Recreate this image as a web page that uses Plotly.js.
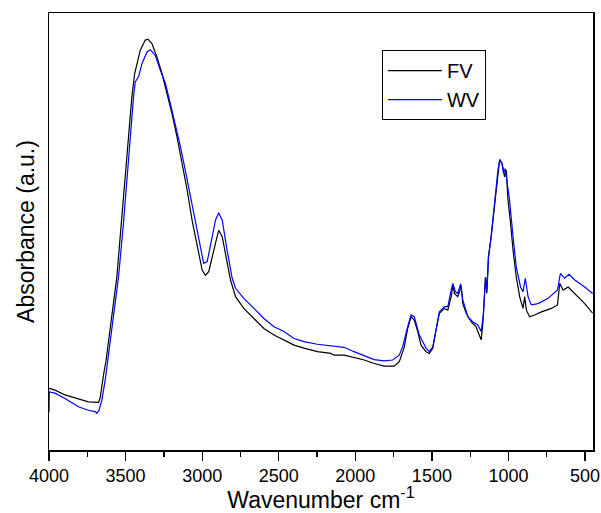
<!DOCTYPE html>
<html>
<head>
<meta charset="utf-8">
<script src="https://cdn.plot.ly/plotly-3.0.1.min.js"></script>
<style>html,body{margin:0;padding:0;background:#fff;}#chart{width:601px;height:513px;}</style>
</head>
<body>
<div id="chart"></div>
<script>
// FV series (wavenumber cm-1, absorbance a.u.)
const fvWavenumber = [4000,3961,3895,3808,3743,3677,3666,3644,3627,3557,3524,3502,3481,3459,3441,3426,3404,3371,3354,3328,3295,3262,3229,3197,3164,3131,3098,3066,3033,3000,2979,2957,2924,2892,2869,2837,2815,2782,2728,2662,2597,2531,2466,2400,2335,2247,2160,2139,2073,2008,1942,1877,1811,1746,1713,1691,1680,1658,1636,1615,1592,1571,1538,1517,1494,1473,1451,1418,1396,1374,1363,1353,1331,1320,1309,1298,1276,1243,1211,1200,1178,1167,1156,1150,1141,1131,1113,1095,1080,1069,1058,1042,1036,1025,1014,1003,986,970,949,927,905,894,883,862,829,785,720,680,665,643,610,567,502,450];
const fvAbsorbance = [0.141,0.137,0.126,0.116,0.110,0.109,0.119,0.172,0.206,0.396,0.534,0.640,0.732,0.808,0.861,0.884,0.915,0.938,0.940,0.930,0.899,0.861,0.816,0.770,0.716,0.656,0.595,0.526,0.465,0.412,0.400,0.408,0.457,0.503,0.488,0.427,0.389,0.351,0.324,0.301,0.278,0.263,0.252,0.240,0.233,0.225,0.221,0.217,0.217,0.212,0.206,0.198,0.192,0.192,0.202,0.224,0.236,0.278,0.305,0.297,0.271,0.240,0.225,0.221,0.233,0.274,0.313,0.324,0.320,0.351,0.377,0.358,0.351,0.362,0.377,0.335,0.313,0.293,0.282,0.271,0.252,0.290,0.351,0.396,0.359,0.441,0.488,0.549,0.595,0.640,0.663,0.656,0.644,0.625,0.640,0.572,0.518,0.457,0.396,0.351,0.324,0.351,0.320,0.305,0.309,0.316,0.324,0.332,0.381,0.366,0.373,0.358,0.335,0.313];

// WV series
const wvWavenumber = [4000,3998,3961,3895,3808,3743,3699,3688,3673,3655,3633,3616,3546,3514,3491,3470,3448,3437,3415,3393,3360,3339,3306,3273,3240,3208,3175,3142,3110,3077,3044,3011,2990,2967,2946,2913,2892,2869,2837,2804,2782,2728,2662,2597,2531,2466,2400,2335,2247,2160,2073,2008,1942,1877,1811,1756,1713,1691,1658,1636,1615,1582,1538,1517,1494,1473,1451,1418,1396,1374,1363,1346,1331,1313,1298,1265,1232,1200,1178,1163,1150,1141,1130,1113,1095,1080,1069,1056,1042,1032,1021,1008,993,970,949,921,905,890,872,851,807,741,680,661,633,604,567,502,450];
const wvAbsorbance = [0.087,0.133,0.130,0.118,0.099,0.091,0.088,0.084,0.091,0.114,0.160,0.206,0.396,0.518,0.625,0.716,0.808,0.842,0.854,0.884,0.911,0.916,0.903,0.869,0.839,0.793,0.747,0.694,0.640,0.579,0.518,0.457,0.427,0.431,0.465,0.526,0.543,0.526,0.457,0.393,0.370,0.347,0.324,0.301,0.282,0.271,0.255,0.248,0.242,0.238,0.235,0.225,0.215,0.207,0.204,0.206,0.217,0.236,0.282,0.309,0.305,0.263,0.233,0.225,0.236,0.278,0.316,0.328,0.328,0.366,0.381,0.362,0.358,0.380,0.343,0.305,0.293,0.286,0.271,0.313,0.396,0.366,0.442,0.488,0.549,0.595,0.640,0.665,0.656,0.633,0.644,0.610,0.572,0.488,0.419,0.373,0.362,0.393,0.351,0.332,0.335,0.347,0.366,0.404,0.393,0.402,0.389,0.373,0.358];

const seriesNames = ["FV", "WV"];
const xTickVals = [4000,3500,3000,2500,2000,1500,1000,500];

const font = "Arial, 'Liberation Sans', sans-serif";
const traces = [
  {x: fvWavenumber, y: fvAbsorbance, name: seriesNames[0], type: "scatter", mode: "lines",
   line: {color: "#000000", width: 1.2}},
  {x: wvWavenumber, y: wvAbsorbance, name: seriesNames[1], type: "scatter", mode: "lines",
   line: {color: "#0000ff", width: 1.2}}
];
const layout = {
  width: 601, height: 513,
  margin: {l: 49, r: 8, t: 13, b: 63},
  paper_bgcolor: "#ffffff", plot_bgcolor: "#ffffff",
  font: {family: font, color: "#000000", size: 18},
  showlegend: true,
  legend: {x: 0.612, y: 0.915, xanchor: "left", yanchor: "top",
    bordercolor: "#000000", borderwidth: 1, bgcolor: "#ffffff",
    itemwidth: 54,
    font: {family: font, size: 20, color: "#000000"}, tracegroupgap: 0},
  xaxis: {
    range: [4000, 448], autorange: false, automargin: false,
    tickmode: "array", tickvals: xTickVals, ticktext: xTickVals.map(String),
    ticks: "outside", ticklen: 9, tickwidth: 1.3, tickcolor: "#000000",
    minor: {dtick: 250, tick0: 0, ticks: "outside", ticklen: 5, tickwidth: 1.3, tickcolor: "#000000", showgrid: false},
    showline: true, linecolor: "#000000", linewidth: 1.5, mirror: true,
    showgrid: false, zeroline: false,
    tickfont: {family: font, size: 18, color: "#000000"},
    title: {text: "Wavenumber cm<sup>-1</sup>", font: {family: font, size: 23, color: "#000000"}, standoff: 12}
  },
  yaxis: {
    range: [0, 1.0], autorange: false, automargin: false,
    showticklabels: false, ticks: "",
    showline: true, linecolor: "#000000", linewidth: 1.5, mirror: true,
    showgrid: false, zeroline: false,
    title: {text: "Absorbance (a.u.)", font: {family: font, size: 23, color: "#000000"}, standoff: 6}
  }
};
Plotly.newPlot("chart", traces, layout, {displayModeBar: false, staticPlot: true});
</script>
</body>
</html>
